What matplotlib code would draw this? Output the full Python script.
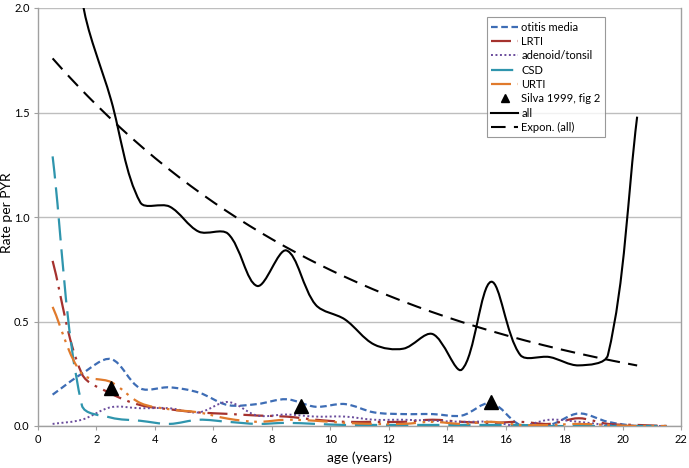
import numpy as np
import matplotlib
matplotlib.use("Agg")
import matplotlib.pyplot as plt
from matplotlib.path import Path
from matplotlib.patches import PathPatch
from matplotlib.lines import Line2D

plt.rcParams['font.family'] = ['Lato', 'DejaVu Sans']

# ---- data ----
age = [0.5, 1.5, 2.5, 3.5, 4.5, 5.5, 6.5, 7.5, 8.5, 9.5, 10.5, 11.5, 12.5,
       13.5, 14.5, 15.5, 16.5, 17.5, 18.5, 19.5, 20.5, 21.5]
otitis = [0.15, 0.25, 0.32, 0.18, 0.185, 0.16, 0.10, 0.105, 0.128, 0.092, 0.105,
          0.065, 0.057, 0.057, 0.05, 0.11, 0.005, 0.005, 0.06, 0.02, 0.0, 0.0]
lrti = [0.79, 0.25, 0.155, 0.10, 0.08, 0.065, 0.058, 0.05, 0.045, 0.03, 0.02,
        0.02, 0.02, 0.03, 0.02, 0.015, 0.02, 0.01, 0.037, 0.01, 0.005, 0.0]
adenoid = [0.01, 0.03, 0.09, 0.085, 0.085, 0.065, 0.115, 0.05, 0.055, 0.045, 0.045,
           0.03, 0.03, 0.025, 0.02, 0.02, 0.0, 0.03, 0.02, 0.005, 0.0, 0.0]
csd = [1.29, 0.10, 0.04, 0.025, 0.01, 0.03, 0.02, 0.01, 0.015, 0.01, 0.005,
       0.005, 0.005, 0.005, 0.005, 0.005, 0.005, 0.0, 0.0, 0.0, 0.0, 0.0]
urti = [0.57, 0.25, 0.21, 0.11, 0.08, 0.065, 0.035, 0.02, 0.03, 0.025, 0.015,
        0.01, 0.01, 0.02, 0.01, 0.02, 0.005, 0.005, 0.01, 0.005, 0.0, 0.0]
age_all = [0.5, 1.5, 2.5, 3.5, 4.5, 5.5, 6.5, 7.5, 8.5, 9.5, 10.5, 11.5, 12.5,
           13.5, 14.5, 15.5, 16.5, 17.5, 18.5, 19.5, 20.5]
all_rate = [3.6, 2.05, 1.56, 1.07, 1.05, 0.93, 0.92, 0.67, 0.84, 0.58, 0.51,
            0.39, 0.37, 0.44, 0.27, 0.69, 0.34, 0.33, 0.29, 0.34, 1.48]
silva_age = [2.5, 9.0, 15.5]
silva_rate = [0.18, 0.095, 0.115]
expon_a = 1.84     # trendline y = a * exp(-b * x)
expon_b = 0.0902

xticks = [0, 2, 4, 6, 8, 10, 12, 14, 16, 18, 20, 22]
yticks = [0.0, 0.5, 1.0, 1.5, 2.0]

fig = plt.figure(figsize=(6.89, 4.68), dpi=100)
ax = fig.add_axes([38 / 689, 1 - 426 / 468, 643 / 689, 418 / 468])
ax.set_xlim(0, 22)
ax.set_ylim(0, 2.0)


def smooth_path(x, y):
    """Excel-like smoothed line: cubic Bezier, tangents weighted by
    segment lengths measured on screen."""
    p = np.column_stack([x, y]).astype(float)
    s = ax.transData.transform(p)
    n = len(p)
    d = np.hypot(*(np.diff(s, axis=0).T))
    verts = [p[0]]
    codes = [Path.MOVETO]
    for i in range(n - 1):
        p1, p2 = p[i], p[i + 1]
        if i > 0:
            f1 = d[i] / (d[i - 1] + d[i])
            c1 = p1 + (p2 - p[i - 1]) * f1 / 3.0
        else:
            c1 = p1 + (p2 - p1) / 3.0
        if i + 2 < n:
            f2 = d[i] / (d[i] + d[i + 1])
            c2 = p2 - (p[i + 2] - p1) * f2 / 3.0
        else:
            c2 = p2 - (p2 - p1) / 3.0
        verts += [c1, c2, p2]
        codes += [Path.CURVE4] * 3
    return Path(verts, codes)


styles = [
    (otitis, "otitis media", "#3E6DB5", (0, (3, 1.6)), 1.6),
    (lrti, "LRTI", "#A5322E", (0, (9, 3, 1.2, 3)), 1.6),
    (adenoid, "adenoid/tonsil", "#6A4C9C", (0, (1, 1.3)), 1.4),
    (csd, "CSD", "#2F95AD", (0, (10, 4)), 1.6),
    (urti, "URTI", "#E07A2C", (0, (9, 3, 1.2, 2.5, 1.2, 3)), 1.6),
]
handles = []
for data, label, color, ls, lw in styles:
    patch = PathPatch(smooth_path(age, data), fill=False, edgecolor=color,
                      linestyle=ls, linewidth=lw, zorder=3)
    ax.add_patch(patch)
    handles.append(Line2D([], [], color=color, linestyle=ls, linewidth=lw, label=label))

ax.plot(silva_age, silva_rate, linestyle="none", marker="^", color="black",
        markersize=10, zorder=5)
handles.append(Line2D([], [], linestyle="none", marker="^", color="black",
                      markersize=6, label="Silva 1999, fig 2"))

patch = PathPatch(smooth_path(age_all, all_rate), fill=False, edgecolor="black",
                  linewidth=1.5, zorder=4)
ax.add_patch(patch)
handles.append(Line2D([], [], color="black", linewidth=1.5, label="all"))

xs = np.linspace(age_all[0], age_all[-1], 200)
ax.plot(xs, expon_a * np.exp(-expon_b * xs), color="black", linestyle=(0, (7, 4)),
        linewidth=1.5, zorder=4)
handles.append(Line2D([], [], color="black", linestyle=(0, (7, 4)), linewidth=1.5,
                      label="Expon. (all)"))

ax.set_xticks(xticks)
ax.set_yticks(yticks)
ax.set_yticklabels([f"{v:.1f}" for v in yticks])
ax.tick_params(axis="both", labelsize=8, length=3, color="#A0A0A0", pad=3)
ax.yaxis.grid(True, color="#BEBEBE", linewidth=1.0)
ax.set_axisbelow(True)
for s in ["left", "bottom", "right"]:
    ax.spines[s].set_color("#A0A0A0")
    ax.spines[s].set_linewidth(1.0)
ax.spines["top"].set_visible(False)

ax.set_xlabel("age (years)", fontsize=10)
ax.xaxis.set_label_coords(0.5, -0.060)
ax.set_ylabel("Rate per PYR", fontsize=10)
ax.yaxis.set_label_coords(-0.039, 0.51)

leg = ax.legend(handles=handles, loc="upper left", bbox_to_anchor=(0.698, 0.978),
                borderaxespad=0, fontsize=8, frameon=True, fancybox=False,
                edgecolor="#808080", handlelength=2.4, handletextpad=0.3,
                labelspacing=0.3, borderpad=0.4)
leg.get_frame().set_linewidth(0.8)

fig.savefig("out.png", dpi=100)
